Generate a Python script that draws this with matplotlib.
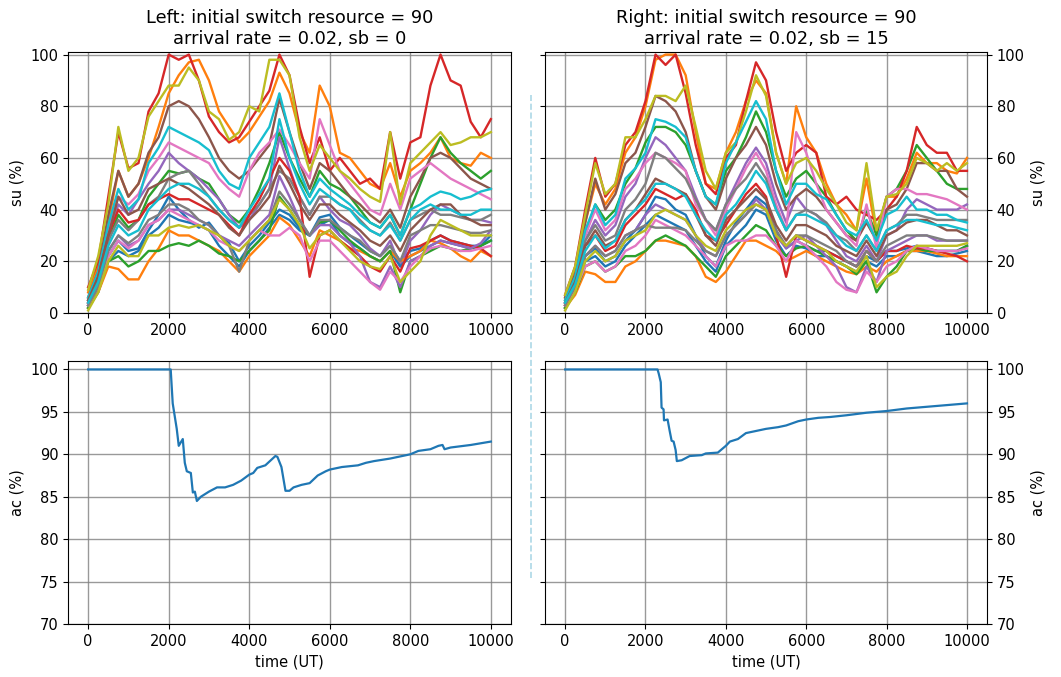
import numpy as np
import matplotlib.pyplot as plt

# sample times (UT)
time = list(range(0, 10001, 250))

# su (%) traces, left panel (sb = 0), colours follow the default cycle twice
su_left = [
    [3, 10, 22, 28, 24, 25, 32, 38, 45, 40, 36, 33, 35, 30, 27, 20, 26, 30, 35, 40, 38, 33, 30, 37, 38, 33, 30, 27, 24, 22, 26, 20, 24, 25, 28, 30, 28, 27, 26, 26, 28],
    [8, 18, 35, 55, 45, 50, 60, 72, 85, 92, 97, 98, 90, 78, 72, 66, 70, 76, 82, 93, 85, 70, 62, 88, 80, 62, 60, 55, 50, 48, 58, 45, 55, 58, 62, 68, 60, 58, 57, 62, 60],
    [5, 14, 28, 38, 33, 36, 45, 50, 55, 54, 55, 52, 50, 44, 38, 35, 40, 48, 58, 70, 60, 52, 45, 55, 50, 48, 45, 40, 35, 33, 38, 30, 40, 50, 60, 68, 62, 58, 55, 52, 55],
    [10, 20, 45, 70, 56, 58, 78, 85, 100, 98, 100, 90, 76, 70, 66, 68, 74, 80, 86, 100, 92, 72, 58, 68, 55, 60, 55, 50, 52, 48, 70, 52, 66, 68, 88, 100, 90, 88, 74, 68, 75],
    [4, 12, 30, 42, 38, 44, 50, 55, 62, 58, 55, 52, 48, 44, 38, 33, 36, 42, 48, 68, 56, 45, 38, 45, 40, 36, 34, 30, 25, 22, 28, 18, 28, 32, 38, 42, 40, 38, 36, 36, 35],
    [6, 16, 38, 55, 45, 50, 62, 68, 80, 82, 80, 75, 68, 60, 55, 52, 55, 60, 65, 83, 70, 58, 48, 58, 55, 50, 45, 42, 38, 35, 40, 33, 45, 52, 60, 62, 60, 56, 52, 50, 48],
    [5, 14, 32, 45, 42, 46, 55, 60, 66, 64, 62, 60, 58, 52, 48, 45, 55, 62, 66, 71, 65, 58, 52, 75, 65, 55, 50, 45, 40, 38, 50, 40, 52, 55, 58, 55, 52, 50, 48, 46, 44],
    [4, 12, 28, 36, 32, 36, 42, 45, 52, 54, 55, 50, 45, 40, 36, 33, 38, 42, 48, 55, 52, 45, 38, 45, 45, 42, 40, 36, 32, 30, 35, 28, 36, 38, 40, 38, 38, 37, 36, 36, 38],
    [9, 22, 42, 72, 55, 60, 76, 82, 88, 88, 95, 90, 78, 75, 67, 70, 80, 78, 98, 98, 92, 68, 55, 65, 60, 55, 52, 48, 45, 43, 70, 42, 58, 62, 66, 70, 65, 66, 68, 68, 70],
    [6, 16, 34, 48, 40, 44, 58, 64, 72, 70, 68, 66, 63, 55, 50, 48, 60, 66, 72, 85, 70, 55, 45, 52, 48, 45, 42, 38, 35, 33, 38, 30, 40, 42, 45, 47, 46, 44, 45, 47, 48],
    [2, 8, 20, 24, 22, 24, 30, 33, 38, 36, 35, 34, 32, 26, 22, 18, 24, 28, 33, 38, 36, 32, 30, 34, 36, 30, 27, 25, 22, 20, 24, 18, 22, 24, 26, 28, 27, 26, 25, 26, 30],
    [2, 8, 18, 17, 13, 13, 20, 25, 32, 30, 30, 28, 26, 24, 20, 16, 22, 26, 30, 37, 34, 28, 22, 32, 30, 28, 25, 24, 22, 20, 24, 20, 22, 24, 28, 27, 25, 22, 20, 24, 22],
    [2, 10, 20, 22, 18, 20, 24, 24, 26, 27, 26, 28, 26, 23, 22, 20, 24, 28, 32, 45, 40, 34, 30, 35, 36, 32, 28, 25, 22, 20, 24, 8, 20, 22, 24, 26, 25, 24, 25, 26, 28],
    [4, 14, 30, 40, 35, 36, 42, 44, 46, 44, 44, 42, 40, 38, 34, 30, 38, 44, 52, 60, 55, 45, 14, 30, 32, 28, 25, 22, 18, 16, 22, 16, 25, 26, 28, 30, 28, 27, 26, 25, 22],
    [3, 10, 24, 30, 26, 28, 34, 36, 40, 40, 38, 36, 34, 30, 28, 26, 30, 34, 38, 53, 45, 36, 30, 34, 34, 30, 27, 22, 12, 10, 18, 10, 20, 22, 26, 28, 27, 26, 25, 27, 32],
    [5, 14, 30, 45, 38, 40, 48, 50, 52, 50, 48, 45, 42, 38, 33, 30, 36, 40, 45, 57, 50, 42, 36, 42, 42, 38, 35, 32, 28, 26, 30, 24, 32, 36, 40, 42, 42, 38, 36, 34, 34],
    [3, 10, 22, 28, 25, 28, 34, 36, 40, 38, 36, 34, 32, 28, 26, 24, 28, 32, 30, 30, 33, 30, 20, 28, 28, 24, 20, 16, 12, 9, 16, 12, 18, 22, 25, 26, 25, 24, 24, 25, 26],
    [3, 10, 24, 30, 27, 30, 36, 38, 42, 42, 40, 36, 34, 30, 26, 16, 28, 32, 36, 47, 42, 36, 30, 36, 36, 33, 30, 28, 24, 22, 26, 20, 30, 32, 34, 34, 33, 32, 31, 31, 32],
    [1, 8, 20, 26, 22, 22, 30, 30, 33, 34, 33, 34, 32, 30, 26, 24, 28, 32, 36, 44, 40, 34, 25, 30, 32, 28, 24, 20, 18, 17, 22, 12, 16, 20, 30, 36, 34, 32, 30, 30, 30],
    [4, 12, 26, 34, 30, 32, 40, 44, 48, 50, 50, 48, 45, 40, 36, 33, 40, 46, 52, 75, 60, 50, 42, 48, 45, 42, 40, 35, 32, 30, 34, 28, 36, 40, 42, 40, 40, 38, 38, 40, 40],
]

# su (%) traces, right panel (sb = 15)
su_right = [
    [2, 8, 22, 25, 20, 22, 28, 32, 38, 45, 44, 40, 38, 30, 22, 18, 28, 35, 40, 45, 42, 32, 25, 28, 26, 24, 24, 22, 20, 18, 22, 20, 24, 24, 25, 26, 25, 24, 24, 24, 26],
    [6, 16, 35, 50, 42, 48, 62, 68, 80, 98, 100, 100, 92, 70, 50, 48, 62, 70, 82, 90, 85, 62, 50, 80, 68, 62, 50, 42, 38, 32, 52, 30, 45, 45, 52, 62, 58, 58, 55, 54, 60],
    [5, 14, 30, 42, 36, 40, 50, 56, 66, 72, 72, 70, 65, 55, 45, 42, 55, 60, 68, 78, 70, 55, 45, 52, 55, 50, 45, 38, 32, 28, 40, 30, 45, 48, 55, 65, 60, 55, 50, 48, 48],
    [7, 18, 40, 60, 45, 50, 65, 70, 82, 100, 96, 100, 85, 65, 50, 46, 60, 65, 82, 97, 90, 70, 55, 62, 65, 62, 45, 42, 45, 40, 38, 36, 40, 45, 55, 72, 65, 62, 62, 55, 55],
    [4, 12, 28, 36, 30, 34, 45, 50, 60, 68, 65, 60, 55, 45, 36, 32, 42, 50, 58, 64, 58, 45, 35, 45, 40, 38, 34, 28, 22, 20, 26, 20, 30, 32, 40, 44, 42, 40, 40, 40, 42],
    [6, 15, 35, 52, 40, 46, 58, 62, 72, 84, 82, 78, 70, 55, 45, 40, 52, 60, 65, 72, 65, 50, 40, 45, 48, 45, 40, 35, 30, 28, 35, 28, 40, 42, 48, 58, 58, 55, 55, 48, 45],
    [4, 12, 30, 40, 32, 36, 48, 52, 58, 62, 60, 58, 55, 42, 36, 30, 40, 48, 56, 62, 55, 42, 32, 70, 62, 50, 40, 35, 30, 26, 42, 25, 45, 48, 48, 46, 46, 45, 44, 42, 40],
    [4, 12, 28, 34, 28, 30, 40, 44, 50, 62, 60, 56, 52, 44, 36, 32, 42, 48, 52, 58, 52, 40, 32, 38, 40, 38, 35, 30, 28, 24, 30, 24, 32, 34, 38, 38, 37, 36, 36, 36, 36],
    [7, 18, 38, 58, 46, 50, 68, 68, 75, 84, 84, 82, 88, 72, 55, 48, 62, 66, 78, 92, 84, 62, 50, 58, 60, 55, 48, 42, 35, 32, 58, 32, 45, 46, 50, 60, 58, 55, 58, 55, 58],
    [5, 14, 32, 42, 34, 38, 52, 56, 62, 75, 74, 72, 68, 55, 45, 42, 58, 66, 74, 82, 75, 55, 42, 50, 50, 46, 44, 38, 32, 30, 36, 28, 38, 40, 45, 40, 40, 38, 38, 36, 35],
    [2, 8, 20, 22, 18, 20, 26, 30, 34, 38, 36, 34, 32, 26, 20, 16, 26, 30, 34, 40, 38, 28, 22, 26, 25, 22, 22, 20, 18, 16, 20, 18, 22, 22, 24, 24, 23, 22, 22, 23, 24],
    [2, 7, 16, 15, 12, 12, 18, 20, 24, 28, 28, 27, 26, 22, 14, 12, 16, 22, 28, 28, 26, 24, 20, 22, 24, 22, 20, 18, 16, 15, 18, 16, 20, 22, 24, 24, 24, 23, 22, 22, 22],
    [2, 8, 18, 20, 16, 18, 22, 22, 24, 28, 30, 28, 26, 22, 18, 14, 22, 26, 30, 34, 32, 26, 22, 25, 26, 24, 22, 20, 18, 15, 20, 8, 14, 18, 24, 25, 24, 24, 24, 24, 26],
    [3, 10, 26, 30, 24, 26, 34, 38, 42, 48, 46, 44, 46, 40, 30, 28, 34, 40, 46, 50, 45, 30, 14, 30, 28, 26, 24, 22, 20, 18, 24, 20, 24, 24, 26, 25, 25, 24, 23, 22, 20],
    [3, 10, 22, 26, 22, 24, 30, 32, 38, 42, 40, 38, 36, 30, 24, 22, 30, 34, 38, 44, 40, 30, 25, 28, 30, 26, 22, 18, 10, 8, 18, 12, 24, 26, 28, 30, 30, 28, 28, 28, 28],
    [4, 12, 26, 32, 26, 28, 36, 40, 46, 52, 50, 48, 46, 38, 30, 26, 36, 40, 44, 48, 44, 34, 28, 34, 34, 32, 30, 26, 24, 22, 28, 22, 30, 32, 35, 36, 36, 34, 32, 32, 30],
    [3, 9, 18, 20, 16, 18, 24, 26, 30, 36, 34, 32, 30, 26, 22, 18, 26, 28, 28, 30, 30, 26, 20, 28, 26, 22, 18, 12, 9, 8, 16, 12, 18, 20, 24, 26, 25, 24, 24, 24, 25],
    [3, 10, 22, 26, 22, 24, 30, 32, 34, 33, 33, 33, 32, 28, 24, 22, 30, 34, 38, 42, 40, 32, 26, 30, 30, 28, 26, 24, 20, 18, 24, 20, 26, 28, 30, 30, 30, 29, 28, 28, 28],
    [1, 8, 20, 24, 20, 22, 28, 30, 32, 38, 40, 38, 36, 30, 26, 24, 32, 36, 40, 42, 40, 30, 26, 30, 28, 26, 24, 20, 18, 16, 22, 10, 14, 16, 22, 26, 26, 26, 26, 26, 27],
    [4, 11, 24, 30, 25, 28, 36, 40, 44, 50, 50, 48, 45, 38, 32, 28, 38, 42, 48, 55, 50, 40, 32, 38, 38, 36, 34, 30, 26, 24, 30, 24, 32, 34, 36, 36, 35, 34, 34, 33, 32],
]

# ac (%) curves
ac_left_t = [0, 2050, 2100, 2200, 2250, 2350, 2400, 2450, 2550, 2600, 2650, 2700, 2800, 3000, 3200,
             3400, 3600, 3800, 4000, 4100, 4200, 4400, 4650, 4700, 4800, 4900, 5000, 5100, 5300,
             5500, 5700, 5900, 6000, 6300, 6700, 6900, 7100, 7500, 7800, 8000, 8200, 8500, 8700,
             8800, 8850, 9000, 9500, 10000]
ac_left = [100, 100, 96, 93, 91, 91.8, 89, 88, 87.8, 85.5, 85.6, 84.5, 85, 85.6, 86.1,
           86.1, 86.4, 86.9, 87.6, 87.8, 88.4, 88.7, 89.8, 89.7, 88.5, 85.7, 85.7, 86.1, 86.4,
           86.6, 87.5, 88, 88.2, 88.5, 88.7, 89, 89.2, 89.5, 89.8, 90, 90.4, 90.6, 91,
           91.1, 90.6, 90.8, 91.1, 91.5]

ac_right_t = [0, 2300, 2330, 2380, 2400, 2450, 2460, 2550, 2600, 2650, 2700, 2750, 2780, 2900,
              3100, 3400, 3500, 3800, 3900, 4000, 4100, 4300, 4500, 4700, 5000, 5300, 5500, 5800,
              6000, 6300, 6600, 7000, 7500, 8000, 8500, 9000, 9500, 10000]
ac_right = [100, 100, 99.5, 98.5, 95.5, 95.3, 94, 94.1, 92.8, 91.6, 91.5, 90.5, 89.2, 89.3,
            89.8, 89.9, 90.1, 90.2, 90.6, 91, 91.5, 91.8, 92.5, 92.7, 93, 93.2, 93.4, 93.9,
            94.1, 94.3, 94.4, 94.6, 94.9, 95.1, 95.4, 95.6, 95.8, 96]


def style_axes(ax, right=False):
    ax.grid(True, color='grey', linewidth=1, alpha=0.8)
    ax.tick_params(labelsize=10.5)
    if right:
        ax.yaxis.tick_right()
        ax.yaxis.set_label_position('right')
        ax.tick_params(axis='y', left=True, right=True, labelleft=False, labelright=True)


def main():
    fig = plt.figure(figsize=(10.61, 6.77), dpi=100)

    ax_tl = fig.add_axes([0.0641, 0.5377, 0.4175, 0.3855])
    ax_tr = fig.add_axes([0.5137, 0.5377, 0.4166, 0.3855])
    ax_bl = fig.add_axes([0.0641, 0.0783, 0.4175, 0.3885])
    ax_br = fig.add_axes([0.5137, 0.0783, 0.4166, 0.3885])

    for ys in su_left:
        ax_tl.plot(time, ys, linewidth=1.7)
    for ys in su_right:
        ax_tr.plot(time, ys, linewidth=1.7)

    ax_bl.plot(ac_left_t, ac_left, linewidth=1.6)
    ax_br.plot(ac_right_t, ac_right, linewidth=1.6)

    for ax in (ax_tl, ax_tr):
        ax.set_ylim(0, 101)
        ax.set_yticks([0, 20, 40, 60, 80, 100])
        ax.set_ylabel('su (%)', fontsize=10.5)
    for ax in (ax_bl, ax_br):
        ax.set_ylim(70, 101)
        ax.set_yticks([70, 75, 80, 85, 90, 95, 100])
        ax.set_ylabel('ac (%)', fontsize=10.5)
        ax.set_xlabel('time (UT)', fontsize=10.5)
    for ax in (ax_tl, ax_tr, ax_bl, ax_br):
        ax.set_xticks([0, 2000, 4000, 6000, 8000, 10000])

    style_axes(ax_tl)
    style_axes(ax_bl)
    style_axes(ax_tr, right=True)
    style_axes(ax_br, right=True)

    ax_tl.set_title('Left: initial switch resource = 90\narrival rate = 0.02, sb = 0', fontsize=12.8)
    ax_tr.set_title('Right: initial switch resource = 90\narrival rate = 0.02, sb = 15', fontsize=12.8)

    # separator between the two columns
    fig.add_artist(plt.Line2D([0.5005, 0.5005], [0.146, 0.860], transform=fig.transFigure,
                              color='lightblue', linestyle='--', linewidth=1.2))

    fig.savefig('out.png', dpi=100)


if __name__ == "__main__":
    main()
